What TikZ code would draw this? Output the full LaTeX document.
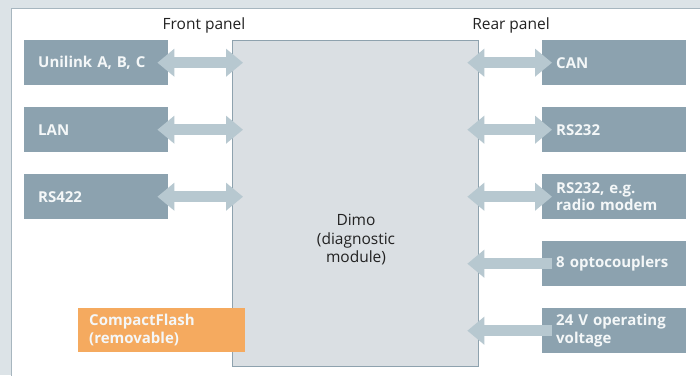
\documentclass[tikz,border=0pt]{standalone}
\usepackage{fontspec}
\setmainfont{Open Sans}
\usetikzlibrary{arrows.meta}
\definecolor{bgout}{HTML}{DCE3E7}
\definecolor{panelline}{HTML}{A7B6BF}
\definecolor{boxfill}{HTML}{8CA2AF}
\definecolor{arrfill}{HTML}{B7C8D0}
\definecolor{mainfill}{HTML}{DADFE3}
\definecolor{mainline}{HTML}{8EA2AE}
\definecolor{cforange}{HTML}{F5AA5F}
\definecolor{lbltext}{HTML}{F4F7F8}
\definecolor{darktext}{HTML}{222222}
\tikzset{
  ifbox/.style={fill=boxfill, draw=none, anchor=north west, minimum width=144pt, minimum height=45pt,
    inner xsep=14pt, inner ysep=0pt, text width=116pt, align=left, text=lbltext,
    font=\fontsize{15}{17.5}\selectfont\bfseries},
  cfbox/.style={fill=cforange, draw=none, anchor=north west, minimum width=167pt, minimum height=44pt,
    inner xsep=11pt, inner ysep=0pt, text width=145pt, align=left, text=lbltext,
    font=\fontsize{15}{17.5}\selectfont\bfseries},
  mainbox/.style={fill=mainfill, draw=mainline, line width=1.3pt, anchor=north west,
    minimum width=246pt, minimum height=326pt, inner sep=0pt},
  paneltitle/.style={text=darktext, font=\fontsize{15.5}{18}\selectfont, inner sep=0pt},
  maintext/.style={text=darktext, font=\fontsize{15.5}{18.5}\selectfont, align=center, inner sep=0pt},
  dblarr/.style={draw=arrfill, line width=11pt,
    {Triangle[length=17pt,width=27pt,fill=arrfill]}-{Triangle[length=17pt,width=27pt,fill=arrfill]}},
  sglarr/.style={draw=arrfill, line width=11pt, {Triangle[length=17pt,width=27pt,fill=arrfill]}-},
}
\begin{document}
\begin{tikzpicture}[x=1pt,y=-1pt]
\useasboundingbox (0,0) rectangle (700,375);
\fill[bgout] (0,0) rectangle (700,375);
\filldraw[fill=white, draw=panelline, line width=1pt] (11,8) rectangle (703,378);

\node[paneltitle] (front) at (204,25) {Front panel};
\node[paneltitle] (rear) at (511,25) {Rear panel};

\node[mainbox] (dimo) at (232,40) {};
\node[maintext] (dimotext) at (356,240) {Dimo\\(diagnostic\\module)};

\node[ifbox] (unilink) at (24,40) {Unilink~A,~B,~C};
\node[ifbox] (lan) at (24,107) {LAN};
\node[ifbox] (rs422) at (24,174) {RS422};

\node[ifbox] (can) at (542,40) {CAN};
\node[ifbox] (rs232) at (542,107) {RS232};
\node[ifbox] (rs232r) at (542,174) {RS232,~e.g.\\radio~modem};
\node[ifbox] (opto) at (542,241) {8~optocouplers};
\node[ifbox] (volt) at (542,308) {24~V~operating\\voltage};

\node[cfbox] (cf) at (78,308) {CompactFlash\\(removable)};

\foreach \n in {unilink,lan,rs422}{
  \draw[dblarr] ([xshift=-11pt]\n.east) -- ([xshift=11pt]\n.east -| dimo.west);
}
\foreach \n in {can,rs232,rs232r}{
  \draw[dblarr] ([xshift=-12pt]\n.west -| dimo.east) -- ([xshift=10pt]\n.west);
}
\foreach \n in {opto,volt}{
  \draw[sglarr] ([xshift=-12pt]\n.west -| dimo.east) -- ([xshift=10pt]\n.west);
}
\end{tikzpicture}
\end{document}
